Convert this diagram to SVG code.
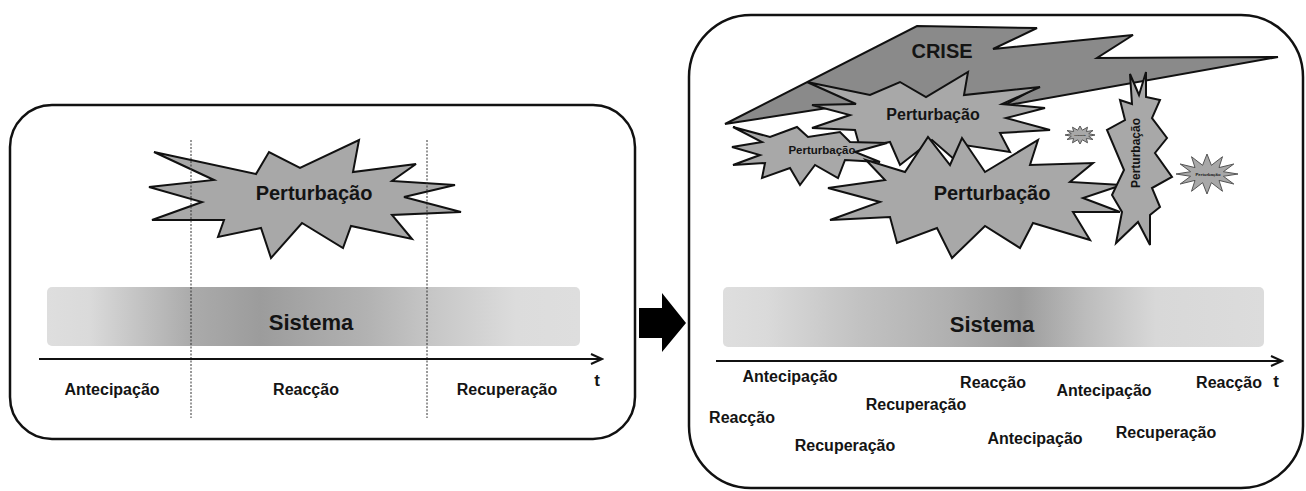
<svg xmlns="http://www.w3.org/2000/svg" width="1306" height="491" viewBox="0 0 1306 491">
<style>
.panel{fill:#fff;stroke:#111;stroke-width:2.5}
.burst{fill:#a8a8a8;stroke:#111;stroke-width:2;stroke-linejoin:miter}
.burst-thin{fill:#a8a8a8;stroke:#555;stroke-width:1}
.bolt{fill:#8a8a8a;stroke:#111;stroke-width:2;stroke-linejoin:miter}
.t{font-family:"Liberation Sans",Arial,sans-serif;font-weight:bold;fill:#141414;text-anchor:middle}
.lbl{font-size:16px}
.axis{stroke:#111;stroke-width:2;fill:none}
.dash{stroke:#333;stroke-width:1;stroke-dasharray:2 1.5;fill:none}
</style>
<defs>
<marker id="ah" markerUnits="userSpaceOnUse" markerWidth="14" markerHeight="12" refX="12" refY="6" orient="auto">
<path d="M1,1 L12,6 L1,11" fill="none" stroke="#111" stroke-width="2"/>
</marker>
<linearGradient id="gL" x1="0" y1="0" x2="1" y2="0">
<stop offset="0" stop-color="#dedede"/>
<stop offset="0.08" stop-color="#dadada"/>
<stop offset="0.27" stop-color="#ababab"/>
<stop offset="0.4" stop-color="#9c9c9c"/>
<stop offset="0.6" stop-color="#b2b2b2"/>
<stop offset="0.72" stop-color="#c6c6c6"/>
<stop offset="0.88" stop-color="#dcdcdc"/>
<stop offset="1" stop-color="#dedede"/>
</linearGradient>
<linearGradient id="gR" x1="0" y1="0" x2="1" y2="0">
<stop offset="0" stop-color="#dedede"/>
<stop offset="0.08" stop-color="#dadada"/>
<stop offset="0.25" stop-color="#c2c2c2"/>
<stop offset="0.42" stop-color="#b0b0b0"/>
<stop offset="0.55" stop-color="#9c9c9c"/>
<stop offset="0.67" stop-color="#bcbcbc"/>
<stop offset="0.8" stop-color="#d8d8d8"/>
<stop offset="1" stop-color="#dcdcdc"/>
</linearGradient>
</defs>

<!-- LEFT PANEL -->
<g id="left-panel">
<rect class="panel" x="10" y="105" width="625" height="334" rx="42" ry="42"/>
</g>
<g id="left-perturbacao">
<polygon class="burst" points="154,152 256,174 269,152 300,168 359,140 353,172 416,164 392,181 455,185 404,197 461,212 392,215 412,239 351,226 343,248 302,223 271,258 261,228 218,237 224,220 152,220 202,202 149,187 214,180"/>
<text class="t" x="314" y="200" font-size="20">Perturbação</text>
</g>
<g id="left-sistema">
<rect x="47" y="287" width="533" height="59" rx="5" fill="url(#gL)"/>
<text class="t" x="311" y="330" font-size="22">Sistema</text>
</g>
<g id="left-connectors">
<line class="dash" x1="191" y1="140" x2="191" y2="418"/>
<line class="dash" x1="427" y1="140" x2="427" y2="418"/>
<line class="axis" x1="39" y1="359" x2="602" y2="359" marker-end="url(#ah)"/>
</g>
<g id="left-labels">
<text class="t lbl" x="112" y="395">Antecipação</text>
<text class="t lbl" x="306" y="395">Reacção</text>
<text class="t lbl" x="507" y="395">Recuperação</text>
<text class="t" x="597" y="386" font-size="17">t</text>
</g>

<!-- BIG ARROW -->
<g id="transition-arrow">
<polygon points="639,308 662,308 662,293 686,323 662,352 662,338 639,338" fill="#000"/>
</g>

<!-- RIGHT PANEL -->
<g id="right-panel">
<rect class="panel" x="689" y="15" width="614" height="473" rx="62" ry="62"/>
</g>
<g id="crise">
<polygon class="bolt" points="725,124 917,26 1037,28 993,49 1133,35 1097,58 1278,57 1003,106 1032,90 900,104 853,104"/>
<text class="t" x="942" y="58" font-size="20">CRISE</text>
</g>
<g id="perturbacao-upper">
<polygon class="burst" points="807,82 870,95 900,82 926,97 968,72 964,95 1040,87 1002,104 1045,108 1006,118 1050,130 1000,133 1010,152 964,145 955,160 932,140 900,165 890,142 860,148 855,130 812,128 850,115 812,105 856,104"/>
<text class="t" x="933" y="120" font-size="16">Perturbação</text>
</g>
<g id="perturbacao-small-left">
<polygon class="burst" points="733,127 770,137 797,127 808,137 840,132 850,142 887,143 855,152 880,162 845,160 838,178 815,165 800,185 790,168 762,178 765,163 733,165 760,155 732,147 762,142"/>
<text class="t" x="822" y="154" font-size="11.5">Perturbação</text>
</g>
<g id="perturbacao-big">
<polygon class="burst" points="828,188 885,180 866,160 905,172 928,137 950,165 962,138 985,172 1038,140 1030,165 1093,163 1070,182 1122,185 1083,198 1120,212 1073,212 1090,240 1033,223 1020,248 985,226 952,258 937,228 897,243 890,217 830,220 880,202"/>
<text class="t" x="992" y="200" font-size="20">Perturbação</text>
</g>
<g id="perturbacao-vertical">
<polygon class="burst" points="1130,74 1139,95 1146,72 1146,97 1160,100 1152,118 1167,138 1155,153 1172,177 1152,188 1160,207 1150,215 1150,245 1138,222 1116,243 1122,212 1112,195 1124,170 1107,130 1125,120 1120,100 1132,104"/>
<text class="t" transform="translate(1136,153) rotate(-90)" x="0" y="4" font-size="12">Perturbação</text>
</g>
<g id="perturbacao-tiny">
<polygon class="burst-thin" points="1095,135 1088.7,136.3 1093,139.5 1086.4,138.5 1087.5,142.8 1082.3,139.8 1080,144 1077.7,139.8 1072.5,142.8 1073.6,138.5 1067,139.5 1071.3,136.3 1065,135 1071.3,133.7 1067,130.5 1073.6,131.5 1072.5,127.2 1077.7,130.2 1080,126 1082.3,130.2 1087.5,127.2 1086.4,131.5 1093,130.5 1088.7,133.7"/>
<text class="t" x="1080" y="135.7" font-size="2">Perturbação</text>
</g>
<g id="perturbacao-small-right">
<polygon class="burst-thin" points="1238,174 1223.4,176.3 1233.8,184 1219,180.4 1222.5,191.3 1211.4,182.7 1207,194 1202.6,182.7 1191.5,191.3 1195,180.4 1180.2,184 1190.6,176.3 1176,174 1190.6,171.7 1180.2,164 1195,167.6 1191.5,156.7 1202.6,165.3 1207,154 1211.4,165.3 1222.5,156.7 1219,167.6 1233.8,164 1223.4,171.7"/>
<text class="t" x="1208" y="175.5" font-size="4.3">Perturbação</text>
</g>
<g id="right-sistema">
<rect x="723" y="287" width="541" height="60" rx="5" fill="url(#gR)"/>
<text class="t" x="992" y="332" font-size="22">Sistema</text>
</g>
<g id="right-connectors">
<line class="axis" x1="716" y1="361" x2="1282" y2="361" marker-end="url(#ah)"/>
</g>
<g id="right-labels">
<text class="t lbl" x="790" y="382">Antecipação</text>
<text class="t lbl" x="993" y="388">Reacção</text>
<text class="t lbl" x="1104" y="396">Antecipação</text>
<text class="t lbl" x="1229" y="388">Reacção</text>
<text class="t lbl" x="916" y="410">Recuperação</text>
<text class="t lbl" x="742" y="423">Reacção</text>
<text class="t lbl" x="1166" y="438">Recuperação</text>
<text class="t lbl" x="1035" y="444">Antecipação</text>
<text class="t lbl" x="845" y="451">Recuperação</text>
<text class="t" x="1276" y="387" font-size="17">t</text>
</g>
</svg>
